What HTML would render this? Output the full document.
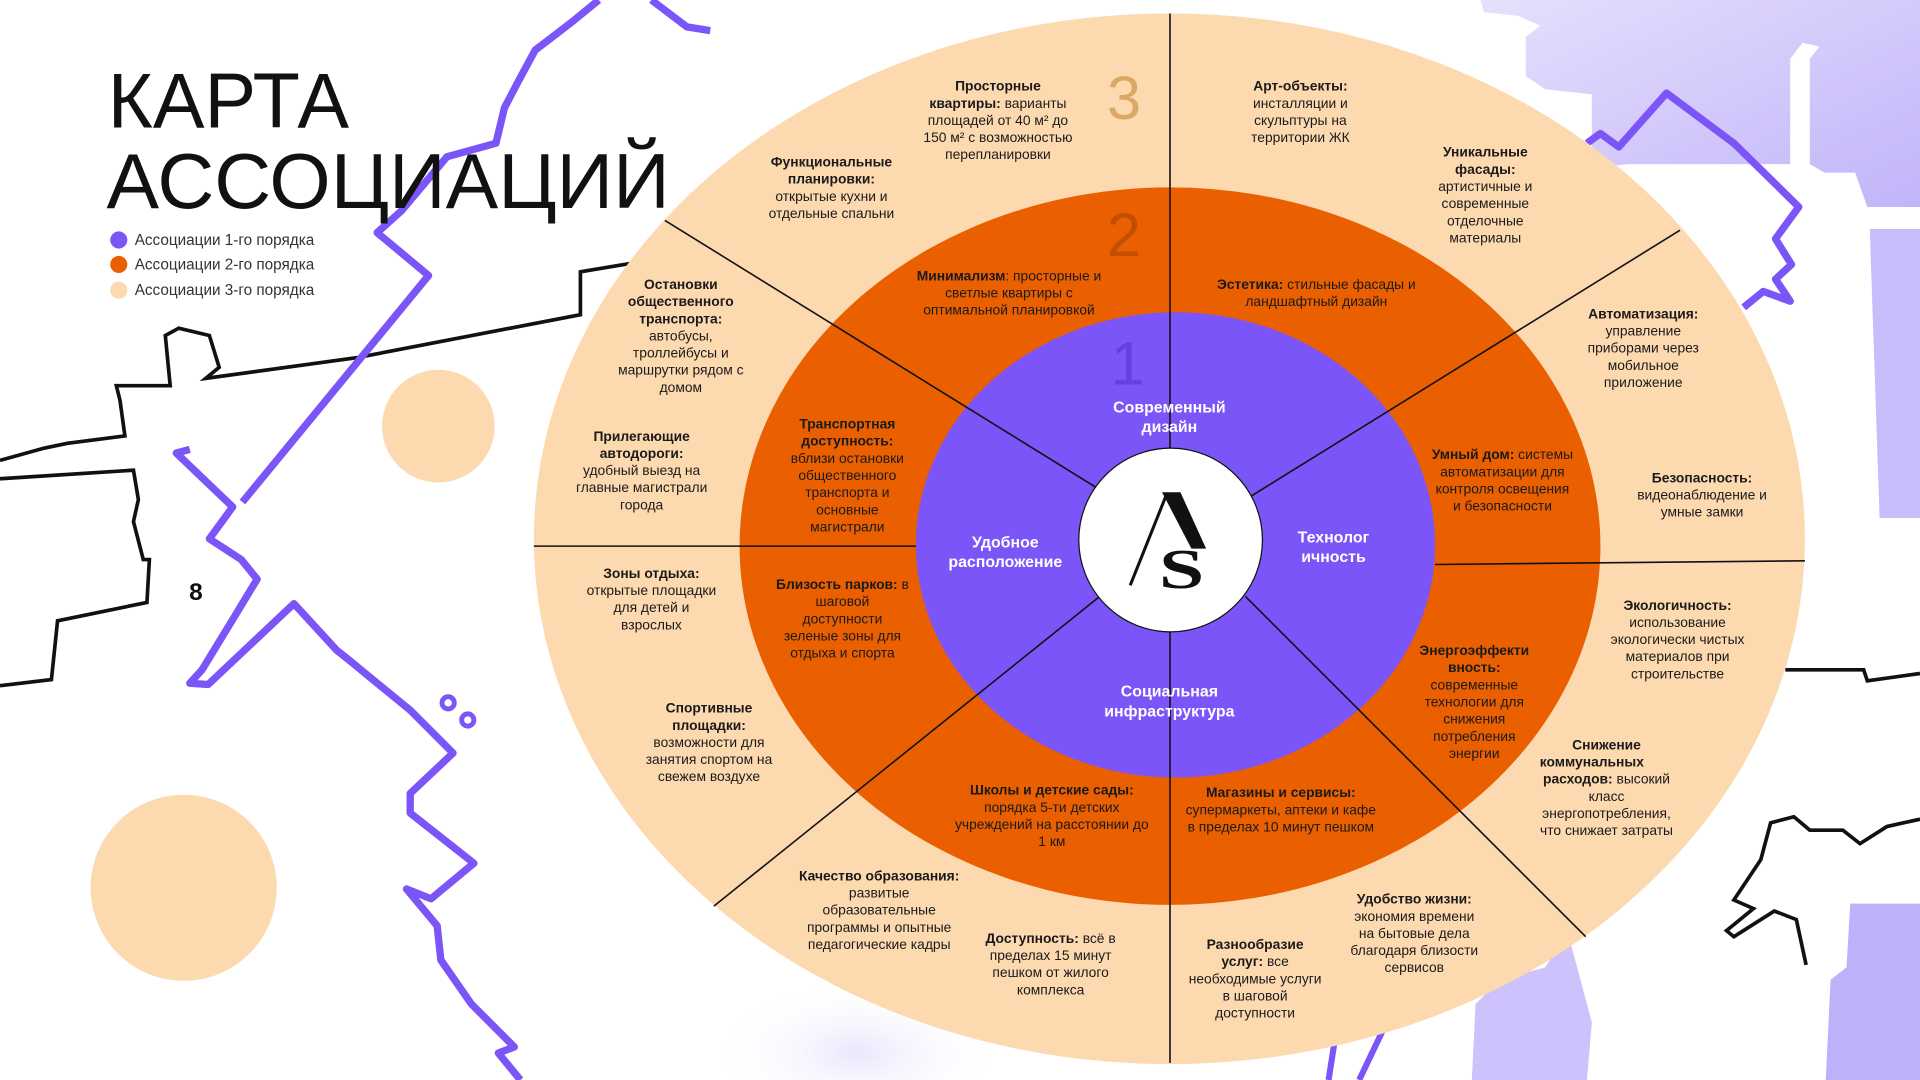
<!DOCTYPE html>
<html><head><meta charset="utf-8"><style>
html,body{margin:0;padding:0;background:#fff;width:1920px;height:1080px;overflow:hidden}
svg{display:block}
.t{font-family:"Liberation Sans","DejaVu Sans",sans-serif;font-size:11.3px;fill:#1a1a1a;text-anchor:middle}
.b{font-weight:bold}
.w{font-family:"Liberation Sans",sans-serif;font-size:13px;font-weight:bold;fill:#fff;text-anchor:middle}
</style></head><body>
<svg width="1920" height="1080" viewBox="0 0 1568 882" xmlns="http://www.w3.org/2000/svg">
<defs>
<linearGradient id="lv" x1="0" y1="0" x2="1" y2="1"><stop offset="0" stop-color="#e6e0fc"/><stop offset="1" stop-color="#c2b4fa"/></linearGradient>
<radialGradient id="fl" cx="0.5" cy="0.5" r="0.5"><stop offset="0" stop-color="#ebe6fd"/><stop offset="1" stop-color="#ffffff" stop-opacity="0"/></radialGradient>
</defs>
<!-- lavender background shapes -->
<path d="M1209 0 H1568 V169 H1525 L1515 141 H1490 L1478 134 V48 L1486 38 L1472 35 L1462 48 V134 H1330 L1300 137 V77 L1262 73 L1246 62 V30 L1258 21 L1240 13 L1212 10 Z" fill="url(#lv)"/>
<path d="M1527 187 H1568 V423 H1535 Z" fill="#c9bcfb"/>
<path d="M1511 738 H1568 V882 H1491 L1495 800 L1508 790 Z" fill="#bfb0fa"/>
<path d="M1202 882 L1205 820 L1225 800 L1262 790 L1280 760 L1300 835 L1296 882 Z" fill="#cdc2fc"/>
<ellipse cx="700" cy="860" rx="120" ry="60" fill="url(#fl)"/>
<!-- peach circles -->
<circle cx="358" cy="348" r="46" fill="#fdd9b0"/>
<circle cx="150" cy="725" r="76" fill="#fdd9b0"/>
<!-- black lines -->
<path d="M0 376 L36 366 L55 362 L102 356 L98 327 L95 315 L106 315 L139 315 L135 274 L146 268 L171 274 L179 300 L168 309 L292 292 L474 257 L474 222 L510 216 L560 206" fill="none" stroke="#111" stroke-width="3"/>
<path d="M0 391 L109 384 L113 408 L109 426 L117 457 L122 457 L120 492 L47 507 L42 555 L0 560" fill="none" stroke="#111" stroke-width="3"/>
<text x="160" y="490" font-family="Liberation Sans,sans-serif" font-size="20" font-weight="bold" fill="#111" text-anchor="middle">8</text>
<path d="M1458 547 L1522 547 L1525 556 L1568 550" fill="none" stroke="#111" stroke-width="3"/>
<path d="M1568 669 L1541 675 L1519 689 L1505 678 L1478 678 L1465 667 L1446 672 L1438 702 L1416 735 L1432 742 L1410 760 L1416 765 L1449 744 L1467 751 L1475 788" fill="none" stroke="#111" stroke-width="3"/>
<!-- purple lines -->
<path d="M489 0 L467 18 L437 41 L423 67 L412 88 L405 117 L365 128 L328 172 L308 190 L350 225 L198 410" fill="none" stroke="#7b55f8" stroke-width="6" stroke-linejoin="round"/>
<path d="M155 367 L144 370 L190 414 L171 440 L197 457 L210 473 L190 506 L165 547 L155 558 L170 559 L240 493 L275 531 L285 539 L335 580 L370 615 L335 648 L335 664 L387 705 L352 734 L332 726 L357 756 L360 784 L385 820 L420 855 L407 860 L425 882" fill="none" stroke="#7b55f8" stroke-width="6" stroke-linejoin="round"/>
<path d="M532 0 L561 22 L580 25" fill="none" stroke="#7b55f8" stroke-width="6"/>
<circle cx="366" cy="574" r="5" fill="none" stroke="#7b55f8" stroke-width="4"/>
<circle cx="382" cy="588" r="5" fill="none" stroke="#7b55f8" stroke-width="4"/>
<path d="M1296 117 L1307 109 L1322 120 L1361 76 L1416 117 L1469 169 L1450 195 L1463 216 L1450 228 L1462 246 L1440 238 L1424 251" fill="none" stroke="#7b55f8" stroke-width="6" stroke-linejoin="round"/>
<path d="M1085 882 L1090 850 M1110 882 L1130 840" stroke="#7b55f8" stroke-width="5"/>
<!-- rings -->
<ellipse cx="955" cy="440" rx="519" ry="429" fill="#fdd9b0"/>
<ellipse cx="955.5" cy="446" rx="351.5" ry="293" fill="#ea5f00"/>
<ellipse cx="960" cy="445" rx="212" ry="190" fill="#7b55f8"/>
<!-- dividers -->
<g stroke="#111" stroke-width="1.3">
<line x1="955.5" y1="11" x2="955.5" y2="868"/>
<line x1="436" y1="446" x2="748" y2="446"/>
<line x1="1172" y1="461" x2="1474" y2="458"/>
<line x1="543" y1="180" x2="895" y2="398"/>
<line x1="1372" y1="188" x2="1022" y2="405"/>
<line x1="583" y1="740" x2="897" y2="488"/>
<line x1="1295" y1="765" x2="1017" y2="487"/>
</g>
<circle cx="956" cy="441" r="75" fill="#fff" stroke="#111" stroke-width="1"/>
<!-- logo -->
<line x1="923" y1="478" x2="953" y2="403" stroke="#111" stroke-width="2.5"/>
<polygon points="949,402 964,402 985,448 973,448" fill="#111"/>
<text x="0" y="0" transform="translate(965,480) scale(1.45,1)" font-family="Liberation Serif,serif" font-size="46" font-weight="bold" fill="#111" text-anchor="middle">S</text>
<!-- numbers -->
<text x="918" y="97" font-family="Liberation Sans,sans-serif" font-size="50" fill="#d9a865" text-anchor="middle">3</text>
<text x="918" y="209" font-family="Liberation Sans,sans-serif" font-size="50" fill="#c24f00" text-anchor="middle">2</text>
<text x="921" y="314" font-family="Liberation Sans,sans-serif" font-size="50" fill="#6441e0" text-anchor="middle">1</text>
<!-- title -->
<text x="88" y="104" font-family="Liberation Sans,sans-serif" font-size="64" fill="#111" textLength="197" lengthAdjust="spacingAndGlyphs">КАРТА</text>
<text x="87" y="170" font-family="Liberation Sans,sans-serif" font-size="64" fill="#111" textLength="460" lengthAdjust="spacingAndGlyphs">АССОЦИАЦИЙ</text>
<circle cx="97" cy="196" r="7" fill="#7b55f8"/>
<circle cx="97" cy="216" r="7" fill="#ea5f00"/>
<circle cx="97" cy="237" r="7" fill="#fdd9b0"/>
<g font-family="Liberation Sans,sans-serif" font-size="12.5" fill="#333">
<text x="110" y="200">Ассоциации 1-го порядка</text>
<text x="110" y="220">Ассоциации 2-го порядка</text>
<text x="110" y="241">Ассоциации 3-го порядка</text>
</g>
<!-- outer ring texts -->
<text class="t" y="74"><tspan x="815" class="b">Просторные</tspan><tspan x="815" dy="14"><tspan class="b">квартиры:</tspan> варианты</tspan><tspan x="815" dy="14">площадей от 40 м² до</tspan><tspan x="815" dy="14">150 м² с возможностью</tspan><tspan x="815" dy="14">перепланировки</tspan></text>
<text class="t" y="136"><tspan x="679" class="b">Функциональные</tspan><tspan x="679" dy="14" class="b">планировки:</tspan><tspan x="679" dy="14">открытые кухни и</tspan><tspan x="679" dy="14">отдельные спальни</tspan></text>
<text class="t" y="74"><tspan x="1062" class="b">Арт-объекты:</tspan><tspan x="1062" dy="14">инсталляции и</tspan><tspan x="1062" dy="14">скульптуры на</tspan><tspan x="1062" dy="14">территории ЖК</tspan></text>
<text class="t" y="128"><tspan x="1213" class="b">Уникальные</tspan><tspan x="1213" dy="14" class="b">фасады:</tspan><tspan x="1213" dy="14">артистичные и</tspan><tspan x="1213" dy="14">современные</tspan><tspan x="1213" dy="14">отделочные</tspan><tspan x="1213" dy="14">материалы</tspan></text>
<text class="t" y="236"><tspan x="556" class="b">Остановки</tspan><tspan x="556" dy="14" class="b">общественного</tspan><tspan x="556" dy="14" class="b">транспорта:</tspan><tspan x="556" dy="14">автобусы,</tspan><tspan x="556" dy="14">троллейбусы и</tspan><tspan x="556" dy="14">маршрутки рядом с</tspan><tspan x="556" dy="14">домом</tspan></text>
<text class="t" y="360"><tspan x="524" class="b">Прилегающие</tspan><tspan x="524" dy="14" class="b">автодороги:</tspan><tspan x="524" dy="14">удобный выезд на</tspan><tspan x="524" dy="14">главные магистрали</tspan><tspan x="524" dy="14">города</tspan></text>
<text class="t" y="260"><tspan x="1342" class="b">Автоматизация:</tspan><tspan x="1342" dy="14">управление</tspan><tspan x="1342" dy="14">приборами через</tspan><tspan x="1342" dy="14">мобильное</tspan><tspan x="1342" dy="14">приложение</tspan></text>
<text class="t" y="394"><tspan x="1390" class="b">Безопасность:</tspan><tspan x="1390" dy="14">видеонаблюдение и</tspan><tspan x="1390" dy="14">умные замки</tspan></text>
<text class="t" y="472"><tspan x="532" class="b">Зоны отдыха:</tspan><tspan x="532" dy="14">открытые площадки</tspan><tspan x="532" dy="14">для детей и</tspan><tspan x="532" dy="14">взрослых</tspan></text>
<text class="t" y="498"><tspan x="1370" class="b">Экологичность:</tspan><tspan x="1370" dy="14">использование</tspan><tspan x="1370" dy="14">экологически чистых</tspan><tspan x="1370" dy="14">материалов при</tspan><tspan x="1370" dy="14">строительстве</tspan></text>
<text class="t" y="582"><tspan x="579" class="b">Спортивные</tspan><tspan x="579" dy="14" class="b">площадки:</tspan><tspan x="579" dy="14">возможности для</tspan><tspan x="579" dy="14">занятия спортом на</tspan><tspan x="579" dy="14">свежем воздухе</tspan></text>
<text class="t" y="612"><tspan x="1312" class="b">Снижение</tspan><tspan x="1300" dy="14" class="b">коммунальных</tspan><tspan x="1312" dy="14"><tspan class="b">расходов:</tspan> высокий</tspan><tspan x="1312" dy="14">класс</tspan><tspan x="1312" dy="14">энергопотребления,</tspan><tspan x="1312" dy="14">что снижает затраты</tspan></text>
<text class="t" y="719"><tspan x="718" class="b">Качество образования:</tspan><tspan x="718" dy="14">развитые</tspan><tspan x="718" dy="14">образовательные</tspan><tspan x="718" dy="14">программы и опытные</tspan><tspan x="718" dy="14">педагогические кадры</tspan></text>
<text class="t" y="770"><tspan x="858"><tspan class="b">Доступность:</tspan> всё в</tspan><tspan x="858" dy="14">пределах 15 минут</tspan><tspan x="858" dy="14">пешком от жилого</tspan><tspan x="858" dy="14">комплекса</tspan></text>
<text class="t" y="775"><tspan x="1025" class="b">Разнообразие</tspan><tspan x="1025" dy="14"><tspan class="b">услуг:</tspan> все</tspan><tspan x="1025" dy="14">необходимые услуги</tspan><tspan x="1025" dy="14">в шаговой</tspan><tspan x="1025" dy="14">доступности</tspan></text>
<text class="t" y="738"><tspan x="1155" class="b">Удобство жизни:</tspan><tspan x="1155" dy="14">экономия времени</tspan><tspan x="1155" dy="14">на бытовые дела</tspan><tspan x="1155" dy="14">благодаря близости</tspan><tspan x="1155" dy="14">сервисов</tspan></text>
<!-- middle ring texts -->
<text class="t" y="229"><tspan x="824"><tspan class="b">Минимализм</tspan>: просторные и</tspan><tspan x="824" dy="14">светлые квартиры с</tspan><tspan x="824" dy="14">оптимальной планировкой</tspan></text>
<text class="t" y="236"><tspan x="1075"><tspan class="b">Эстетика:</tspan> стильные фасады и</tspan><tspan x="1075" dy="14">ландшафтный дизайн</tspan></text>
<text class="t" y="350"><tspan x="692" class="b">Транспортная</tspan><tspan x="692" dy="14" class="b">доступность:</tspan><tspan x="692" dy="14">вблизи остановки</tspan><tspan x="692" dy="14">общественного</tspan><tspan x="692" dy="14">транспорта и</tspan><tspan x="692" dy="14">основные</tspan><tspan x="692" dy="14">магистрали</tspan></text>
<text class="t" y="375"><tspan x="1227"><tspan class="b">Умный дом:</tspan> системы</tspan><tspan x="1227" dy="14">автоматизации для</tspan><tspan x="1227" dy="14">контроля освещения</tspan><tspan x="1227" dy="14">и безопасности</tspan></text>
<text class="t" y="481"><tspan x="688"><tspan class="b">Близость парков:</tspan> в</tspan><tspan x="688" dy="14">шаговой</tspan><tspan x="688" dy="14">доступности</tspan><tspan x="688" dy="14">зеленые зоны для</tspan><tspan x="688" dy="14">отдыха и спорта</tspan></text>
<text class="t" y="535"><tspan x="1204" class="b">Энергоэффекти</tspan><tspan x="1204" dy="14" class="b">вность:</tspan><tspan x="1204" dy="14">современные</tspan><tspan x="1204" dy="14">технологии для</tspan><tspan x="1204" dy="14">снижения</tspan><tspan x="1204" dy="14">потребления</tspan><tspan x="1204" dy="14">энергии</tspan></text>
<text class="t" y="649"><tspan x="859" class="b">Школы и детские сады:</tspan><tspan x="859" dy="14">порядка 5-ти детских</tspan><tspan x="859" dy="14">учреждений на расстоянии до</tspan><tspan x="859" dy="14">1 км</tspan></text>
<text class="t" y="651"><tspan x="1046" class="b">Магазины и сервисы:</tspan><tspan x="1046" dy="14">супермаркеты, аптеки и кафе</tspan><tspan x="1046" dy="14">в пределах 10 минут пешком</tspan></text>
<!-- inner texts -->
<text class="w" y="337"><tspan x="955">Современный</tspan><tspan x="955" dy="16">дизайн</tspan></text>
<text class="w" y="447"><tspan x="821">Удобное</tspan><tspan x="821" dy="16">расположение</tspan></text>
<text class="w" y="443"><tspan x="1089">Технолог</tspan><tspan x="1089" dy="16">ичность</tspan></text>
<text class="w" y="569"><tspan x="955">Социальная</tspan><tspan x="955" dy="16">инфраструктура</tspan></text>
</svg>
</body></html>
